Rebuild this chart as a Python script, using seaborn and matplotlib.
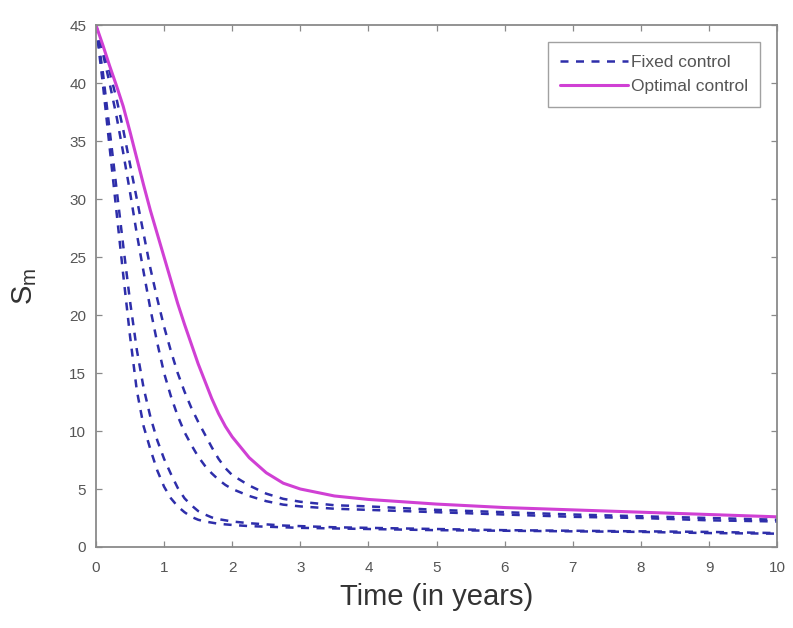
import numpy as np
import pandas as pd
import matplotlib
matplotlib.use("Agg")
import matplotlib.pyplot as plt
import seaborn as sns

# Time grid (years)
time = [0.0, 0.1, 0.2, 0.3, 0.4, 0.5, 0.6, 0.7, 0.8, 0.9, 1.0,
        1.1, 1.2, 1.3, 1.4, 1.5, 1.6, 1.7, 1.8, 1.9, 2.0,
        2.25, 2.5, 2.75, 3.0, 3.5, 4.0, 4.5, 5.0, 6.0, 7.0, 8.0, 9.0, 10.0]

# S_m under fixed control, four control levels
fixed_1 = [45, 40, 34.5, 29, 23.5, 18.2, 13.5, 10.4, 8.4, 6.6, 5.2,
           4.2, 3.5, 3.0, 2.6, 2.35, 2.2, 2.1, 2.0, 1.95, 1.9,
           1.8, 1.75, 1.7, 1.65, 1.6, 1.55, 1.5, 1.45, 1.4, 1.35, 1.3, 1.2, 1.15]
fixed_2 = [45, 41, 36, 31, 26, 21.2, 17, 13.7, 11.2, 9.2, 7.6,
           6.3, 5.1, 4.2, 3.6, 3.1, 2.8, 2.55, 2.4, 2.3, 2.2,
           2.05, 1.95, 1.85, 1.8, 1.7, 1.65, 1.6, 1.55, 1.45, 1.4, 1.35, 1.3, 1.2]
fixed_3 = [45, 42.6, 40, 37.2, 34, 30.6, 27, 23.7, 20.5, 17.6, 15,
           13, 11.3, 9.9, 8.8, 7.8, 7.0, 6.35, 5.8, 5.35, 5.0,
           4.4, 3.95, 3.65, 3.5, 3.3, 3.2, 3.1, 3.0, 2.8, 2.6, 2.5, 2.3, 2.2]
fixed_4 = [45, 43, 41, 38.7, 36, 33, 30, 27, 24, 21.4, 19,
           16.9, 15, 13.4, 12, 10.8, 9.7, 8.6, 7.6, 6.8, 6.2,
           5.3, 4.6, 4.15, 3.9, 3.6, 3.5, 3.35, 3.2, 3.0, 2.8, 2.65, 2.5, 2.35]

# S_m under optimal control
optimal = [45, 43.3, 41.5, 39.8, 38, 35.8, 33.5, 31.2, 29, 27, 25,
           23, 21, 19.2, 17.5, 15.8, 14.3, 12.8, 11.5, 10.4, 9.5,
           7.7, 6.4, 5.5, 5.0, 4.4, 4.1, 3.9, 3.7, 3.4, 3.2, 3.0, 2.8, 2.6]

x_ticks = [0, 1, 2, 3, 4, 5, 6, 7, 8, 9, 10]
y_ticks = [0, 5, 10, 15, 20, 25, 30, 35, 40, 45]

sns.set_style("white")
plt.rcParams["font.family"] = ["Liberation Sans", "DejaVu Sans"]

fig = plt.figure(figsize=(7.93, 6.28), dpi=100)
ax = fig.add_axes([0.121, 0.129, 0.859, 0.831])

fixed_color = "#2e2eaa"
opt_color = "#d040d4"

for i, series in enumerate([fixed_1, fixed_2, fixed_3, fixed_4]):
    df = pd.DataFrame({"t": time, "S": series})
    sns.lineplot(data=df, x="t", y="S", ax=ax, color=fixed_color,
                 linewidth=1.8, label="Fixed control" if i == 0 else None)
    ax.lines[-1].set_dashes((3.2, 3.0))

df_opt = pd.DataFrame({"t": time, "S": optimal})
sns.lineplot(data=df_opt, x="t", y="S", ax=ax, color=opt_color,
             linewidth=2.2, label="Optimal control")

ax.set_xlim(0, 10)
ax.set_ylim(0, 45)
ax.set_xticks(x_ticks)
ax.set_yticks(y_ticks)
ax.set_xticklabels([str(v) for v in x_ticks])
ax.set_yticklabels([str(v) for v in y_ticks])

for s in ax.spines.values():
    s.set_visible(True)
    s.set_color("#8a8a8a")
    s.set_linewidth(1.3)
ax.tick_params(direction="in", length=4.5, width=0.9, color="#8a8a8a",
               labelsize=11, labelcolor="#555555",
               top=True, right=True, bottom=True, left=True)
ax.tick_params(axis="x", pad=10)
ax.tick_params(axis="y", pad=7)

ax.set_xlabel("Time (in years)", fontsize=21, color="#333333", labelpad=6)
ax.set_ylabel(r"$\mathregular{S_m}$", fontsize=21, color="#333333", labelpad=22)

leg = ax.legend(loc="upper right", fontsize=12.5, frameon=True, fancybox=False,
                handlelength=3.9, borderpad=0.7, labelspacing=0.55,
                handletextpad=0.15, borderaxespad=1.0)
leg.get_frame().set_edgecolor("#8a8a8a")
leg.get_frame().set_linewidth(1.0)
for txt in leg.get_texts():
    txt.set_color("#555555")

fig.savefig("out.png", dpi=100, facecolor="white")
